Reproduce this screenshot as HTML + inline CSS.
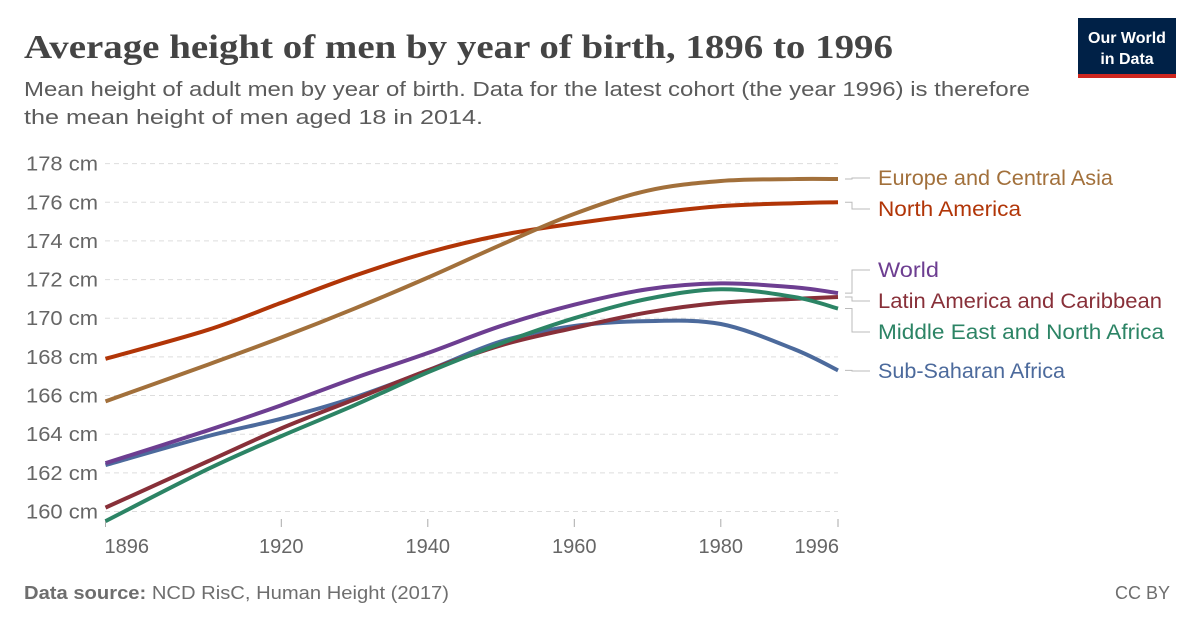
<!DOCTYPE html>
<html><head><meta charset="utf-8"><style>
body{margin:0;background:#fff;font-family:"Liberation Sans",sans-serif;}
svg text{font-family:"Liberation Sans",sans-serif;}
</style></head><body>
<svg width="1200" height="627" viewBox="0 0 1200 627">
<text x="24" y="58" font-size="34" font-weight="bold" fill="#444" textLength="869" lengthAdjust="spacingAndGlyphs" style="font-family:'Liberation Serif',serif">Average height of men by year of birth, 1896 to 1996</text>
<text x="24" y="96" font-size="20" fill="#5b5b5b" textLength="1006" lengthAdjust="spacingAndGlyphs">Mean height of adult men by year of birth. Data for the latest cohort (the year 1996) is therefore</text>
<text x="24" y="124" font-size="20" fill="#5b5b5b" textLength="459" lengthAdjust="spacingAndGlyphs">the mean height of men aged 18 in 2014.</text>
<g>
<rect x="1078" y="18" width="98" height="56" fill="#002147"/>
<rect x="1078" y="74" width="98" height="4" fill="#ce261e"/>
<text x="1127" y="43" font-size="16" font-weight="bold" fill="#fff" text-anchor="middle">Our World</text>
<text x="1127" y="64" font-size="16" font-weight="bold" fill="#fff" text-anchor="middle">in Data</text>
</g>
<g id="grid"></g>
<g id="yticks"></g>
<g id="xticks"></g>
<g id="series"></g>
<g id="labels"></g>
<text x="24" y="599" font-size="18" fill="#6e6e6e" textLength="425" lengthAdjust="spacingAndGlyphs"><tspan font-weight="bold">Data source:</tspan> NCD RisC, Human Height (2017)</text>
<text x="1170" y="599" font-size="18" fill="#6e6e6e" text-anchor="end">CC BY</text>
</svg>
<script>
const years=[1896,1910,1920,1930,1940,1950,1960,1970,1980,1990,1996];
const northAmerica=[167.9,169.4,170.8,172.2,173.4,174.3,174.9,175.4,175.8,175.95,176.0];
const europe=[165.7,167.6,169.0,170.5,172.1,173.8,175.4,176.6,177.1,177.2,177.2];
const world=[162.5,164.2,165.5,166.9,168.2,169.6,170.7,171.5,171.8,171.6,171.3];
const latinAmerica=[160.2,162.6,164.3,165.8,167.3,168.6,169.5,170.3,170.8,171.0,171.1];
const mena=[159.5,162.2,163.9,165.5,167.2,168.7,170.0,171.0,171.5,171.1,170.5];
const ssa=[162.4,163.9,164.8,165.9,167.3,168.8,169.6,169.85,169.7,168.4,167.3];
const yTicks=[160,162,164,166,168,170,172,174,176,178];
const xTicks=[1896,1920,1940,1960,1980,1996];
const NS="http://www.w3.org/2000/svg";
const X=y=>105.5+(y-1896)*(838-105.5)/100;
const Y=v=>511.5-(v-160)*(511.5-163.6)/18;
function mk(t,a,p){const e=document.createElementNS(NS,t);for(const k in a)e.setAttribute(k,a[k]);p.appendChild(e);return e;}
const grid=document.getElementById('grid'),yt=document.getElementById('yticks'),xt=document.getElementById('xticks');
yTicks.forEach(v=>{
 const l=mk('line',{x1:105,x2:838,y1:Y(v),y2:Y(v),stroke:'#ddd','stroke-dasharray':'5,4'},grid);
 
 
 const t=mk('text',{x:98,y:Y(v)+7,'font-size':20,fill:'#666','text-anchor':'end',textLength:72,lengthAdjust:'spacingAndGlyphs'},yt);
 t.textContent=v+' cm';
 
 
});
xTicks.forEach(v=>{
 const l=mk('line',{x1:X(v),x2:X(v),y1:519,y2:527,stroke:'#aaa'},xt);
 
 
 const t=mk('text',{x:X(v),y:553,'font-size':20,fill:'#666','text-anchor':v==1896?'start':(v==1996?'end':'middle')},xt);
 if(v==1896)t.setAttribute('x',X(v)-1);
 if(v==1996)t.setAttribute('x',X(v)+1);
 t.textContent=v;
 
 
});
function path(vals){
 const p=years.map((y,i)=>[X(y),Y(vals[i])]);
 let d='M'+p[0][0]+','+p[0][1];
 for(let i=0;i<p.length-1;i++){
  const p0=p[Math.max(0,i-1)],p1=p[i],p2=p[i+1],p3=p[Math.min(p.length-1,i+2)];
  const c1=[p1[0]+(p2[0]-p0[0])/6,p1[1]+(p2[1]-p0[1])/6],c2=[p2[0]-(p3[0]-p1[0])/6,p2[1]-(p3[1]-p1[1])/6];
  d+=' C'+c1+' '+c2+' '+p2;
 }
 return d;
}
const series=[
 ['series-ssa',ssa,'#4c6a9c'],['series-latin-america',latinAmerica,'#883039'],['series-mena',mena,'#2c8465'],
 ['series-world',world,'#6d3e91'],['series-north-america',northAmerica,'#b13507'],['series-europe',europe,'#a2703b']];
const sg=document.getElementById('series');
series.forEach(s=>{
 const e=mk('path',{d:path(s[1]),fill:'none',stroke:s[2],'stroke-width':4,'stroke-linecap':'butt'},sg);
 
 
});
const labels=[
 ['Europe and Central Asia','#a2703b',185,europe,235],['North America','#b13507',216,northAmerica,143],
 ['World','#6d3e91',277,world,61],['Latin America and Caribbean','#883039',308,latinAmerica,284],
 ['Middle East and North Africa','#2c8465',339,mena,286],['Sub-Saharan Africa','#4c6a9c',378,ssa,187]];
const lg=document.getElementById('labels');
labels.forEach(l=>{
 const yEnd=Y(l[3][l[3].length-1]),yl=l[2]-7;
 const c=mk('path',{d:`M845,${yEnd} H852 V${yl} H870`,fill:'none',stroke:'#bbb','stroke-width':1},lg);
 
 
 const t=mk('text',{x:878,y:l[2],'font-size':21,fill:l[1],textLength:l[4],lengthAdjust:'spacingAndGlyphs'},lg);
 t.textContent=l[0];
 
 
});
</script>
</body></html>
